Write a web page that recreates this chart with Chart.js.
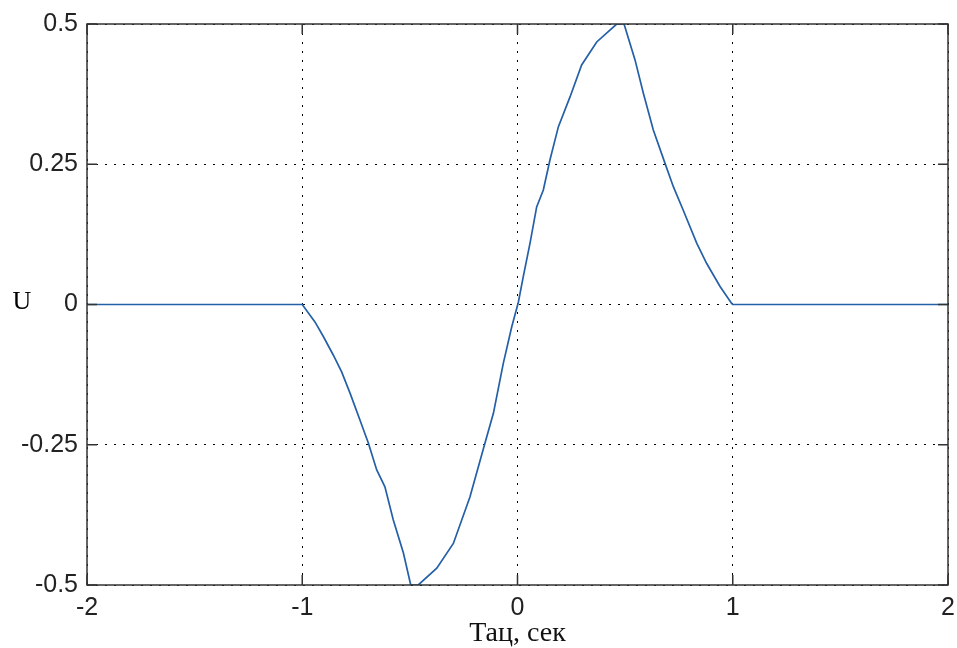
<!DOCTYPE html>
<html>
<head>
<meta charset="utf-8">
<script src="https://cdn.jsdelivr.net/npm/chart.js@4"></script>
<style>
  html, body { margin: 0; padding: 0; background: #fff; }
  #wrap { width: 957px; height: 648px; }
</style>
</head>
<body>
<div id="wrap"><canvas id="uChart"></canvas></div>
<script>
// data
const tauValues = [-2, -1, -0.941, -0.902, -0.856, -0.817, -0.778, -0.732, -0.693, -0.654, -0.616,
  -0.577, -0.530, -0.496, -0.461, -0.375, -0.298, -0.221, -0.151, -0.112, -0.066, -0.027, 0.004,
  0.027, 0.058, 0.089, 0.120, 0.151, 0.190, 0.244, 0.298, 0.368, 0.461, 0.495, 0.546, 0.585,
  0.631, 0.685, 0.724, 0.770, 0.833, 0.879, 0.941, 0.995, 1, 2];
const uValues = [0, 0, -0.031, -0.057, -0.090, -0.120, -0.158, -0.206, -0.247, -0.295, -0.325,
  -0.384, -0.443, -0.5, -0.5, -0.470, -0.426, -0.343, -0.247, -0.194, -0.105, -0.040, 0.004,
  0.050, 0.109, 0.174, 0.204, 0.258, 0.317, 0.370, 0.427, 0.468, 0.5, 0.5, 0.436, 0.376,
  0.311, 0.252, 0.210, 0.168, 0.109, 0.073, 0.032, 0.002, 0, 0];

const xTickValues = [-2, -1, 0, 1, 2];
const xTickLabels = ['-2', '-1', '0', '1', '2'];
const yTickValues = [-0.5, -0.25, 0, 0.25, 0.5];
const yTickLabels = ['-0.5', '-0.25', '0', '0.25', '0.5'];

const points = tauValues.map((t, i) => ({ x: t, y: uValues[i] }));

// box, inward ticks on all four sides and the "U" label
const frameBox = {
  id: 'frameBox',
  afterDraw(chart) {
    const { ctx, chartArea: a, scales: { x, y } } = chart;
    ctx.save();
    ctx.strokeStyle = '#333';
    ctx.lineWidth = 1.5;
    ctx.strokeRect(a.left, a.top, a.width, a.height);
    ctx.beginPath();
    xTickValues.forEach(v => {
      const px = x.getPixelForValue(v);
      ctx.moveTo(px, a.bottom); ctx.lineTo(px, a.bottom - 10);
      ctx.moveTo(px, a.top); ctx.lineTo(px, a.top + 10);
    });
    yTickValues.forEach(v => {
      const py = y.getPixelForValue(v);
      ctx.moveTo(a.left, py); ctx.lineTo(a.left + 10, py);
      ctx.moveTo(a.right, py); ctx.lineTo(a.right - 10, py);
    });
    ctx.stroke();

    ctx.fillStyle = '#000';
    ctx.font = '26px "Liberation Serif", serif';
    ctx.textAlign = 'center';
    ctx.textBaseline = 'middle';
    ctx.fillText('U', 22, y.getPixelForValue(0) - 2);
    ctx.restore();
  }
};

const ctx = document.getElementById('uChart').getContext('2d');
new Chart(ctx, {
  type: 'line',
  data: {
    datasets: [{
      data: points,
      borderColor: '#2460a7',
      borderWidth: 1.7,
      pointRadius: 0,
      tension: 0,
      fill: false
    }]
  },
  options: {
    responsive: true,
    maintainAspectRatio: false,
    animation: false,
    layout: { padding: { left: 0, top: 24, right: 9, bottom: 0 } },
    plugins: { legend: { display: false }, tooltip: { enabled: false } },
    scales: {
      x: {
        type: 'linear',
        min: -2,
        max: 2,
        afterBuildTicks: s => { s.ticks = xTickValues.map(v => ({ value: v })); },
        afterFit: s => { s.height = 63; s.paddingLeft = 0; s.paddingRight = 0; },
        ticks: {
          callback: v => xTickLabels[xTickValues.indexOf(v)],
          color: '#222',
          font: { family: '"Liberation Sans", Arial, sans-serif', size: 25 },
          padding: 8,
          maxRotation: 0
        },
        grid: { color: '#000', lineWidth: 1, drawTicks: false },
        border: { display: false, dash: [2, 7] },
        title: {
          display: true,
          text: 'Тац, сек',
          color: '#111',
          font: { family: '"Liberation Serif", serif', size: 28, lineHeight: 1 },
          padding: 0
        }
      },
      y: {
        type: 'linear',
        min: -0.5,
        max: 0.5,
        afterBuildTicks: s => { s.ticks = yTickValues.map(v => ({ value: v })); },
        afterFit: s => { s.width = 87; s.paddingTop = 0; s.paddingBottom = 0; },
        ticks: {
          callback: v => yTickLabels[yTickValues.indexOf(v)],
          color: '#222',
          font: { family: '"Liberation Sans", Arial, sans-serif', size: 25 },
          padding: 9
        },
        grid: { color: '#000', lineWidth: 1, drawTicks: false },
        border: { display: false, dash: [2, 7] }
      }
    }
  },
  plugins: [frameBox]
});
</script>
</body>
</html>
